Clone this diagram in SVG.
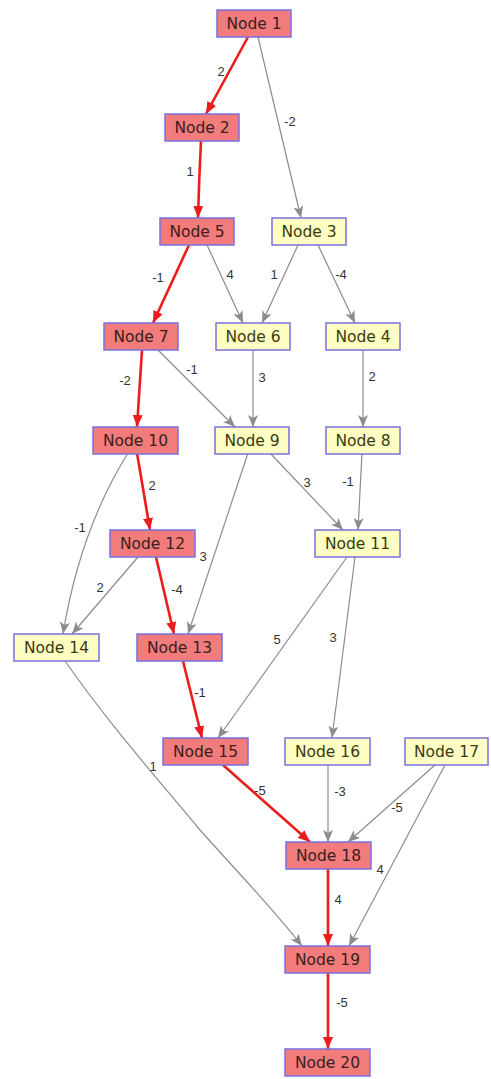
<svg xmlns="http://www.w3.org/2000/svg" width="491" height="1079" viewBox="0 0 491 1079">
<style>
.n rect{stroke:#7a6fe0;stroke-width:1.5}
.r rect{fill:#f27b7b}
.y rect{fill:#ffffc4}
.n text{font-family:"DejaVu Sans",sans-serif;font-size:15.5px;text-anchor:middle;fill:#3a2020}
.y text{fill:#3a3a10}
.e path{fill:none}
.red{stroke:#ec1c1c;stroke-width:2.6}
.gr{stroke:#8c8c8c;stroke-width:1.2}
.lb{font-family:"Liberation Sans",Arial,sans-serif;font-size:13px;fill:#333;text-anchor:middle}
</style>
<defs>
<marker id="ar" markerUnits="userSpaceOnUse" markerWidth="12" markerHeight="10" refX="12" refY="5" orient="auto"><path d="M0,0 L12,5 L0,10 Z" fill="#ec1c1c"/></marker>
<marker id="ag" markerUnits="userSpaceOnUse" markerWidth="12" markerHeight="10" refX="12" refY="5" orient="auto"><path d="M0,0 L12,5 L0,10 L3,5 Z" fill="#8c8c8c"/></marker>
</defs>
<rect width="491" height="1079" fill="#fff"/>
<g id="edges" class="e">
<path class="gr" marker-end="url(#ag)" d="M258,37 L301,218"/>
<path class="gr" marker-end="url(#ag)" d="M207,245 L243,323"/>
<path class="gr" marker-end="url(#ag)" d="M298,245 L262,323"/>
<path class="gr" marker-end="url(#ag)" d="M318,245 L355,323"/>
<path class="gr" marker-end="url(#ag)" d="M158,350 L235,427"/>
<path class="gr" marker-end="url(#ag)" d="M253,350 L253,427"/>
<path class="gr" marker-end="url(#ag)" d="M363,350 L363,427"/>
<path class="gr" marker-end="url(#ag)" d="M128,453 Q80,530 63,634"/>
<path class="gr" marker-end="url(#ag)" d="M138,557 L72,634"/>
<path class="gr" marker-end="url(#ag)" d="M248,453 L188,634"/>
<path class="gr" marker-end="url(#ag)" d="M270,453 L343,530"/>
<path class="gr" marker-end="url(#ag)" d="M362,453 L358,530"/>
<path class="gr" marker-end="url(#ag)" d="M347,557 L218,738"/>
<path class="gr" marker-end="url(#ag)" d="M355,557 L332,738"/>
<path class="gr" marker-end="url(#ag)" d="M65,661 C110,725 150,770 200,830 C240,875 270,905 302,946"/>
<path class="gr" marker-end="url(#ag)" d="M328,765 L328,842"/>
<path class="gr" marker-end="url(#ag)" d="M435,765 L348,842"/>
<path class="gr" marker-end="url(#ag)" d="M445,765 L349,946"/>
<path class="red" marker-end="url(#ar)" d="M248,37 L206,114"/>
<path class="red" marker-end="url(#ar)" d="M201,141 Q199,180 198,218"/>
<path class="red" marker-end="url(#ar)" d="M189,245 L153,323"/>
<path class="red" marker-end="url(#ar)" d="M142,350 L137,427"/>
<path class="red" marker-end="url(#ar)" d="M137,453 L150,530"/>
<path class="red" marker-end="url(#ar)" d="M156,557 L174,634"/>
<path class="red" marker-end="url(#ar)" d="M183,661 L202,738"/>
<path class="red" marker-end="url(#ar)" d="M223,765 L310,842"/>
<path class="red" marker-end="url(#ar)" d="M328,869 L328,946"/>
<path class="red" marker-end="url(#ar)" d="M328,973 L328,1049"/>
<text class="lb" x="221" y="76">2</text>
<text class="lb" x="290" y="126">-2</text>
<text class="lb" x="190" y="176">1</text>
<text class="lb" x="158" y="282">-1</text>
<text class="lb" x="230" y="279">4</text>
<text class="lb" x="274" y="279">1</text>
<text class="lb" x="341" y="279">-4</text>
<text class="lb" x="125" y="385">-2</text>
<text class="lb" x="192" y="374">-1</text>
<text class="lb" x="262" y="382">3</text>
<text class="lb" x="372" y="381">2</text>
<text class="lb" x="152" y="490">2</text>
<text class="lb" x="80" y="532">-1</text>
<text class="lb" x="100" y="592">2</text>
<text class="lb" x="177" y="594">-4</text>
<text class="lb" x="203" y="561">3</text>
<text class="lb" x="307" y="487">3</text>
<text class="lb" x="348" y="486">-1</text>
<text class="lb" x="277" y="644">5</text>
<text class="lb" x="333" y="642">3</text>
<text class="lb" x="200" y="697">-1</text>
<text class="lb" x="153" y="771">1</text>
<text class="lb" x="260" y="795">-5</text>
<text class="lb" x="340" y="796">-3</text>
<text class="lb" x="397" y="812">-5</text>
<text class="lb" x="380" y="874">4</text>
<text class="lb" x="338" y="904">4</text>
<text class="lb" x="342" y="1007">-5</text>
</g>
<g id="node1" class="n r"><rect x="217" y="10" width="74" height="27"/><text x="254" y="29">Node 1</text></g>
<g id="node2" class="n r"><rect x="165" y="114" width="74" height="27"/><text x="202" y="133">Node 2</text></g>
<g id="node3" class="n y"><rect x="272" y="218" width="74" height="27"/><text x="309" y="237">Node 3</text></g>
<g id="node4" class="n y"><rect x="326" y="323" width="74" height="27"/><text x="363" y="342">Node 4</text></g>
<g id="node5" class="n r"><rect x="160" y="218" width="74" height="27"/><text x="197" y="237">Node 5</text></g>
<g id="node6" class="n y"><rect x="216" y="323" width="74" height="27"/><text x="253" y="342">Node 6</text></g>
<g id="node7" class="n r"><rect x="104" y="323" width="74" height="27"/><text x="141" y="342">Node 7</text></g>
<g id="node8" class="n y"><rect x="326" y="427" width="74" height="27"/><text x="363" y="446">Node 8</text></g>
<g id="node9" class="n y"><rect x="215" y="427" width="74" height="27"/><text x="252" y="446">Node 9</text></g>
<g id="node10" class="n r"><rect x="93" y="427" width="85" height="27"/><text x="135.5" y="446">Node 10</text></g>
<g id="node11" class="n y"><rect x="315" y="530" width="85" height="27"/><text x="357.5" y="549">Node 11</text></g>
<g id="node12" class="n r"><rect x="110" y="530" width="85" height="27"/><text x="152.5" y="549">Node 12</text></g>
<g id="node13" class="n r"><rect x="137" y="634" width="85" height="27"/><text x="179.5" y="653">Node 13</text></g>
<g id="node14" class="n y"><rect x="14" y="634" width="85" height="27"/><text x="56.5" y="653">Node 14</text></g>
<g id="node15" class="n r"><rect x="163" y="738" width="85" height="27"/><text x="205.5" y="757">Node 15</text></g>
<g id="node16" class="n y"><rect x="285" y="738" width="85" height="27"/><text x="327.5" y="757">Node 16</text></g>
<g id="node17" class="n y"><rect x="405" y="738" width="83" height="27"/><text x="446.5" y="757">Node 17</text></g>
<g id="node18" class="n r"><rect x="286" y="842" width="85" height="27"/><text x="328.5" y="861">Node 18</text></g>
<g id="node19" class="n r"><rect x="285" y="946" width="85" height="27"/><text x="327.5" y="965">Node 19</text></g>
<g id="node20" class="n r"><rect x="285" y="1049" width="85" height="27"/><text x="327.5" y="1068">Node 20</text></g>
</svg>
